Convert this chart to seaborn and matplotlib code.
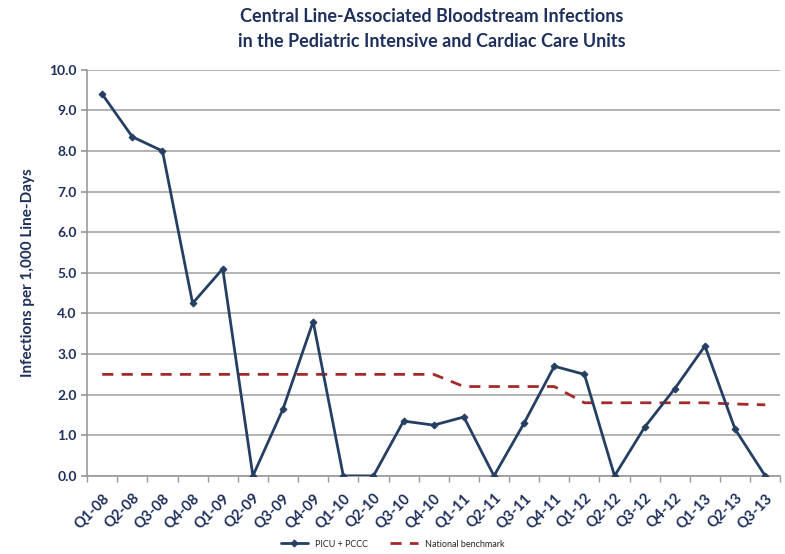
import numpy as np
import pandas as pd
import seaborn as sns
import matplotlib.pyplot as plt
from matplotlib.ticker import FixedLocator, FormatStrFormatter

quarters = ['Q1-08', 'Q2-08', 'Q3-08', 'Q4-08', 'Q1-09', 'Q2-09', 'Q3-09', 'Q4-09',
            'Q1-10', 'Q2-10', 'Q3-10', 'Q4-10', 'Q1-11', 'Q2-11', 'Q3-11', 'Q4-11',
            'Q1-12', 'Q2-12', 'Q3-12', 'Q4-12', 'Q1-13', 'Q2-13', 'Q3-13']
picu_pccc = [9.4, 8.35, 8.0, 4.25, 5.1, 0.0, 1.65, 3.8, 0.0, 0.0, 1.35, 1.25,
             1.45, 0.0, 1.3, 2.7, 2.5, 0.0, 1.2, 2.15, 3.2, 1.15, 0.0]
benchmark = [2.5, 2.5, 2.5, 2.5, 2.5, 2.5, 2.5, 2.5, 2.5, 2.5, 2.5, 2.5,
             2.2, 2.2, 2.2, 2.2, 1.8, 1.8, 1.8, 1.8, 1.8, 1.77, 1.75]
y_ticks = [0, 1, 2, 3, 4, 5, 6, 7, 8, 9, 10]

navy = '#1f2f5c'
line_blue = '#253f63'
red = '#a32a2a'

df = pd.DataFrame({'quarter': quarters, 'PICU + PCCC': picu_pccc,
                   'National benchmark': benchmark})
df['pos'] = np.arange(len(quarters))

sns.set_theme(style='white')
plt.rcParams['font.family'] = ['Lato', 'DejaVu Sans']

fig = plt.figure(figsize=(7.85, 5.54), dpi=100)
ax = fig.add_axes([0.111, 0.141, 0.883, 0.733])

sns.lineplot(data=df, x='pos', y='National benchmark', ax=ax, color=red,
             linewidth=2, dashes=False, linestyle=(0, (4, 3)),
             label='National benchmark', zorder=2)
sns.lineplot(data=df, x='pos', y='PICU + PCCC', ax=ax, color=line_blue,
             linewidth=2, marker='D', markersize=3.5, markeredgecolor=line_blue,
             label='PICU + PCCC', zorder=3)

ax.set_xlim(-0.5, len(quarters) - 0.5)
ax.set_ylim(0, 10)
ax.set_yticks(y_ticks)
ax.yaxis.set_major_formatter(FormatStrFormatter('%.1f'))
ax.set_xticks(df['pos'])
ax.set_xticklabels(quarters, rotation=45, ha='right', rotation_mode='anchor',
                   fontsize=10.5, fontweight='bold', color=navy)
ax.xaxis.set_minor_locator(FixedLocator(np.arange(-0.5, len(quarters), 1)))
ax.tick_params(axis='x', which='major', length=0, pad=11)
ax.tick_params(axis='x', which='minor', length=4, color='#999999', direction='out',
               bottom=True)
ax.tick_params(axis='y', length=4, color='#999999', direction='out', left=True,
               labelsize=10, labelcolor=navy)
for lab in ax.get_yticklabels():
    lab.set_fontweight('bold')

ax.grid(axis='y', color='#a6a6a6', linewidth=1.2)
ax.set_axisbelow(True)
for side in ['top', 'right']:
    ax.spines[side].set_visible(False)
for side in ['left', 'bottom']:
    ax.spines[side].set_color('#999999')
    ax.spines[side].set_linewidth(1.2)

ax.set_xlabel('')
ax.set_ylabel('Infections per 1,000 Line-Days', fontsize=11, fontweight='bold',
              color=navy, labelpad=10)
fig.suptitle('Central Line-Associated Bloodstream Infections\n'
             'in the Pediatric Intensive and Cardiac Care Units',
             x=0.55, y=0.985, fontsize=13, fontweight='bold', color=navy,
             linespacing=1.55)

handles, labels = ax.get_legend_handles_labels()
order = [labels.index('PICU + PCCC'), labels.index('National benchmark')]
ax.legend([handles[i] for i in order], [labels[i] for i in order],
          loc='center', bbox_to_anchor=(0.5, 0.018), bbox_transform=fig.transFigure,
          ncol=2, frameon=False, fontsize=6.5, handlelength=3, columnspacing=2.5)

fig.savefig('out.png', dpi=100)
